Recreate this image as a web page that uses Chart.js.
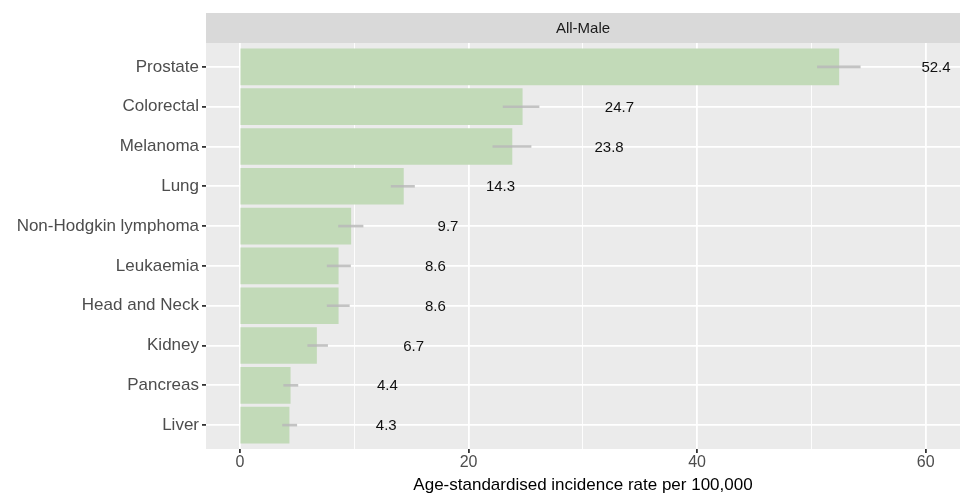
<!DOCTYPE html>
<html>
<head>
<meta charset="utf-8">
<script src="https://cdn.jsdelivr.net/npm/chart.js@4"></script>
<style>
  body { margin: 0; background: #ffffff; }
  #wrap { width: 960px; height: 494px; }
</style>
</head>
<body>
<div id="wrap"><canvas id="chart"></canvas></div>
<script>
// DATA
const categories = ["Prostate", "Colorectal", "Melanoma", "Lung", "Non-Hodgkin lymphoma",
  "Leukaemia", "Head and Neck", "Kidney", "Pancreas", "Liver"];
const rates = [52.4, 24.7, 23.8, 14.3, 9.7, 8.6, 8.6, 6.7, 4.4, 4.3];
const lower = [50.5, 23.0, 22.1, 13.2, 8.6, 7.6, 7.6, 5.9, 3.8, 3.7];
const upper = [54.3, 26.2, 25.5, 15.3, 10.8, 9.7, 9.6, 7.7, 5.1, 5.0];
const xTicks = [0, 10, 20, 30, 40, 50, 60];
const facetLabel = "All-Male";
const labelShift = 8.5; // text sits to the right of each bar

const FONT = "'Liberation Sans', Arial, sans-serif";

// panel background + facet strip
const panelPlugin = {
  id: "panel",
  beforeDraw(chart) {
    const { ctx, chartArea: a } = chart;
    ctx.save();
    ctx.fillStyle = "#ebebeb";
    ctx.fillRect(a.left, a.top, a.right - a.left, a.bottom - a.top);
    ctx.fillStyle = "#d9d9d9";
    ctx.fillRect(a.left, 13, a.right - a.left, a.top - 13);
    ctx.fillStyle = "#1a1a1a";
    ctx.font = "15px " + FONT;
    ctx.textAlign = "center";
    ctx.textBaseline = "middle";
    ctx.fillText(facetLabel, (a.left + a.right) / 2, (13 + a.top) / 2 + 1);
    ctx.restore();
  }
};

// error bars and value labels
const extrasPlugin = {
  id: "extras",
  afterDatasetsDraw(chart) {
    const { ctx } = chart;
    const x = chart.scales.x, y = chart.scales.y;
    ctx.save();
    ctx.strokeStyle = "rgba(185,185,185,0.85)";
    ctx.lineWidth = 2.6;
    rates.forEach((v, i) => {
      const py = y.getPixelForValue(i + 1);
      ctx.beginPath();
      ctx.moveTo(x.getPixelForValue(lower[i]), py);
      ctx.lineTo(x.getPixelForValue(upper[i]), py);
      ctx.stroke();
    });
    ctx.fillStyle = "#111111";
    ctx.font = "15px " + FONT;
    ctx.textAlign = "center";
    ctx.textBaseline = "middle";
    rates.forEach((v, i) => {
      ctx.fillText(v.toFixed(1), x.getPixelForValue(v + labelShift), y.getPixelForValue(i + 1) + 1);
    });
    ctx.restore();
  }
};

new Chart(document.getElementById("chart"), {
  type: "bar",
  data: {
    datasets: [{
      data: rates.map((v, i) => ({ x: v, y: i + 1 })),
      backgroundColor: "#c2dab8",
      borderWidth: 0,
      barThickness: 36
    }]
  },
  options: {
    indexAxis: "y",
    responsive: true,
    maintainAspectRatio: false,
    animation: false,
    layout: { padding: { top: 43, right: 0, bottom: 0, left: 0 } },
    plugins: {
      legend: { display: false },
      tooltip: { enabled: false }
    },
    scales: {
      x: {
        type: "linear",
        min: -2.97,
        max: 63,
        afterBuildTicks: s => { s.ticks = xTicks.map(v => ({ value: v })); },
        afterFit: s => { s.height = 45; },
        border: { display: false },
        grid: {
          color: "#ffffff",
          lineWidth: c => (c.tick && c.tick.value % 20 === 0 ? 1.8 : 0.9),
          tickColor: c => (c.tick && c.tick.value % 20 === 0 ? "#333333" : "rgba(0,0,0,0)"),
          tickLength: 4,
          offset: false
        },
        ticks: {
          color: "#4d4d4d",
          font: { family: FONT, size: 16 },
          padding: 0,
          maxRotation: 0,
          callback: v => (v % 20 === 0 ? v : "")
        },
        title: {
          display: true,
          text: "Age-standardised incidence rate per 100,000",
          color: "#000000",
          font: { family: FONT, size: 17 },
          padding: { top: 0, bottom: -2 }
        }
      },
      y: {
        type: "linear",
        min: 0.4,
        max: 10.6,
        reverse: true,
        offset: false,
        afterBuildTicks: s => { s.ticks = categories.map((c, i) => ({ value: i + 1 })); },
        afterFit: s => { s.width = 206; },
        border: { display: false },
        grid: {
          color: "#ffffff",
          lineWidth: 1.8,
          tickColor: "#333333",
          tickLength: 4,
          offset: false
        },
        ticks: {
          color: "#4d4d4d",
          font: { family: FONT, size: 17 },
          padding: 3,
          autoSkip: false,
          callback: v => categories[v - 1]
        }
      }
    }
  },
  plugins: [panelPlugin, extrasPlugin]
});
</script>
</body>
</html>
